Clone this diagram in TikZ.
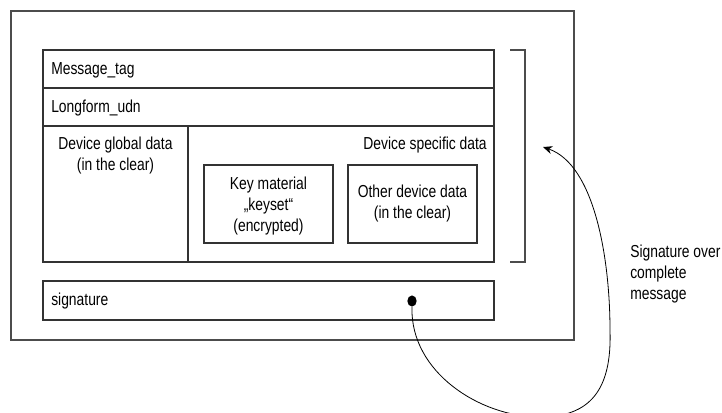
\documentclass[tikz,border=0pt]{standalone}
\usepackage{fontspec}
\setmainfont{Liberation Sans}[FakeStretch=0.8]
\usetikzlibrary{fit,arrows.meta}
\begin{document}
\begin{tikzpicture}[x=0.75pt,y=-0.75pt,
  box/.style={draw=black!80,line width=0.9pt,inner sep=0pt,fit={#1}},
  lbl/.style={font=\fontsize{13}{15.75}\selectfont,inner sep=0pt,align=center},
  lbll/.style={lbl,anchor=west},
  edge/.style={line width=0.6pt}]
\useasboundingbox (0,0) rectangle (722,412);
\clip (0,0) rectangle (722,412);
% outer frame
\node[box={(11,11) (574,340)},draw=black!70] (outer) {};
% rows
\node[box={(43,50) (494,88)}] (tag) {};
\node[box={(43,88) (494,126)}] (udn) {};
\node[box={(43,126) (188,262)}] (global) {};
\node[box={(188,126) (494,262)}] (specific) {};
\node[box={(204,165) (333,243)}] (key) {};
\node[box={(348,165) (477,243)}] (other) {};
\node[box={(43,281) (494,320)}] (sig) {};
% labels
\node[lbll] (tagl) at (51,70) {Message\_tag};
\node[lbll] (udnl) at (51,108) {Longform\_udn};
\node[lbl,anchor=north] (globall) at (115.5,137) {Device global data\\(in the clear)};
\node[lbl,anchor=north east] (specl) at (487,137) {Device specific data};
\node[lbl] (keyl) at (268.5,206) {Key material\\„keyset“\\(encrypted)};
\node[lbl] (otherl) at (412.5,204) {Other device data\\(in the clear)};
\node[lbll] (sigl) at (51,301) {signature};
\node[lbl,anchor=north west,align=left] (note) at (630,245) {Signature over\\complete\\message};
% bracket
\coordinate (brt) at (510,50);
\coordinate (brb) at (510,262);
\draw[draw=black!70,line width=0.9pt] (brt) -| (525,262) -- (brb);
% dot and curved arrow
\node[circle,fill=black,inner sep=0pt,minimum width=6pt,minimum height=7pt,yscale=1.2] (dot) at (412,301) {};
\coordinate (bottom) at (540,417);
\coordinate (side) at (610,330);
\coordinate (tip) at (543,147);
\draw[edge,-{Stealth[length=7pt,width=6pt]}] (dot.south) .. controls (410,372) and (480,417) .. (bottom)
  .. controls (590,417) and (612,390) .. (side)
  .. controls (610,260) and (595,165) .. (tip);
\end{tikzpicture}
\end{document}
